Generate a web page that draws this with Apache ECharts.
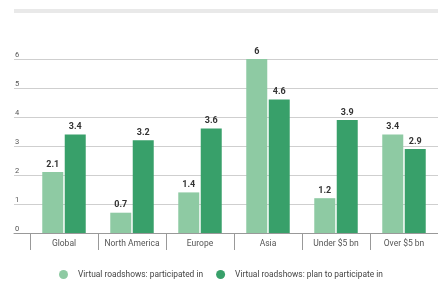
<!DOCTYPE html>
<html>
<head>
<meta charset="utf-8">
<script src="https://cdn.jsdelivr.net/npm/echarts@6/dist/echarts.min.js"></script>
<style>
  html, body { margin: 0; padding: 0; background: #fff; }
  #chart { width: 438px; height: 283px; }
</style>
</head>
<body>
<div id="chart"></div>
<script>
// 虚拟路演 参与情况
var categories = ['Global', 'North America', 'Europe', 'Asia', 'Under $5 bn', 'Over $5 bn'];
var participated = [2.1, 0.7, 1.4, 6, 1.2, 3.4];
var planToParticipate = [3.4, 3.2, 3.6, 4.6, 3.9, 2.9];
var yTicks = [0, 1, 2, 3, 4, 5, 6];

(function() {
  var myChart = echarts.init(document.getElementById('chart'));

  var valueLabel = {
    show: true,
    position: 'top',
    distance: 3,
    fontFamily: 'Roboto',
    fontSize: 9,
    fontWeight: 'bold',
    color: '#333'
  };

  var option = {
    animation: false,
    color: ['#8ecaa3', '#38a06a'],
    textStyle: { fontFamily: 'Roboto' },
    graphic: [
      {
        type: 'rect',
        shape: { x: 14, y: 9, width: 430, height: 4 },
        style: { fill: '#e9e9e9' }
      }
    ],
    legend: {
      left: 54,
      top: 265,
      icon: 'circle',
      itemWidth: 9,
      itemHeight: 9,
      itemGap: 13,
      textStyle: { fontSize: 8.4, color: '#444', fontFamily: 'Roboto', padding: [0, 0, 0, 5] },
      data: ['Virtual roadshows: participated in', 'Virtual roadshows: plan to participate in']
    },
    grid: [
      // 主图
      { left: 30, right: -8, top: 59, height: 174 },
      // 背景网格线
      { left: 14, right: -8, top: 59, height: 174 }
    ],
    xAxis: [
      {
        type: 'category',
        gridIndex: 0,
        data: categories,
        axisLine: { show: false },
        axisTick: { show: true, length: 17, lineStyle: { color: '#999' } },
        axisLabel: { fontSize: 8.5, color: '#555', margin: 6, interval: 0 }
      },
      {
        type: 'category',
        gridIndex: 1,
        data: categories,
        axisLine: { show: true, lineStyle: { color: '#999', width: 1 } },
        axisTick: { show: false },
        axisLabel: { show: false }
      }
    ],
    yAxis: [
      {
        type: 'value',
        gridIndex: 0,
        min: 0,
        max: 6,
        interval: 1,
        axisLine: { show: false },
        axisTick: { show: false },
        axisLabel: { show: false },
        splitLine: { show: false }
      },
      {
        type: 'value',
        gridIndex: 1,
        min: yTicks[0],
        max: yTicks[yTicks.length - 1],
        interval: 1,
        axisLine: { show: false },
        axisTick: { show: false },
        axisLabel: {
          inside: true,
          margin: 1,
          align: 'left',
          verticalAlign: 'bottom',
          fontSize: 7.5,
          color: '#555'
        },
        splitLine: { lineStyle: { color: '#cfcfcf', width: 1 } }
      }
    ],
    series: [
      {
        name: 'Virtual roadshows: participated in',
        type: 'bar',
        xAxisIndex: 0,
        yAxisIndex: 0,
        barWidth: 21,
        barGap: '7%',
        label: valueLabel,
        data: participated
      },
      {
        name: 'Virtual roadshows: plan to participate in',
        type: 'bar',
        xAxisIndex: 0,
        yAxisIndex: 0,
        barWidth: 21,
        barGap: '7%',
        label: valueLabel,
        data: planToParticipate
      }
    ]
  };

  myChart.setOption(option);
})();
</script>
</body>
</html>
